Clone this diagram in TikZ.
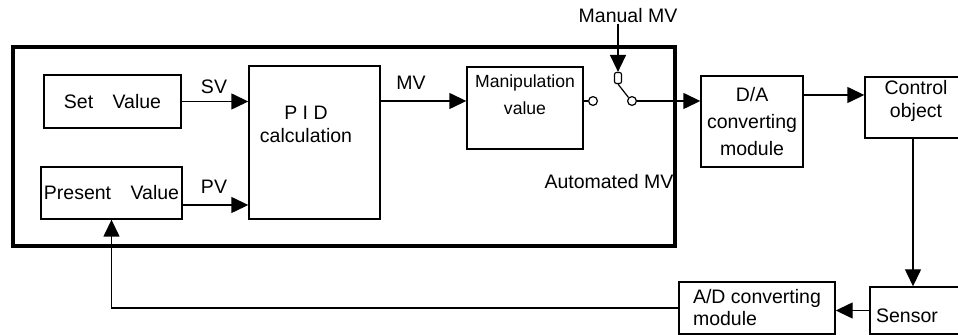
\documentclass[tikz,border=0pt]{standalone}
\usepackage{fontspec}
\setmainfont{Liberation Sans}
\usetikzlibrary{arrows.meta}
\begin{document}
\begin{tikzpicture}[x=0.5pt, y=-0.5pt,
	every node/.style={font=\fontsize{9.75}{11.5}\selectfont, inner sep=0pt},
	box/.style={draw, line width=.7pt, align=center},
	arr/.style={line width=.7pt, -{Triangle[length=8.5pt,width=8pt]}},
	contact/.style={draw, line width=.6pt, circle, minimum size=4.4pt}]
	\clip (0,0) rectangle (958,335) ;
		\node[draw, line width=1.8pt, minimum width=331pt, minimum height=99.5pt] (unit) at (344,146.5) {} ;
		\node[box, minimum width=68.5pt, minimum height=26.5pt] (sv) at (112.5,101.5) {Set\quad Value} ;
		\node[box, minimum width=70.5pt, minimum height=26pt] (pv) at (111.5,193) {Present\quad Value} ;
		\node[box, minimum width=65.5pt, minimum height=76.5pt] (pid) at (314.5,142.5) {} ;
		\node[align=center] (pidtxt) at (306,124) {P I D\\calculation} ;
		\node[box, minimum width=58pt, minimum height=41pt] (manip) at (525,108) {} ;
		\node[align=center, font=\fontsize{8.8}{13.5}\selectfont] (maniptxt) at (525,95) {Manipulation\\value} ;
		\node[contact] (c1) at (593,101) {} ;
		\node[draw, line width=.6pt, rounded corners=1pt, minimum width=3.5pt, minimum height=5.5pt] (c2) at (618,78) {} ;
		\node[contact] (c3) at (632,101) {} ;
		\node (manual) at (628,16) {Manual MV} ;
		\node (auto) at (609,182) {Automated MV} ;
		\node[box, minimum width=51pt, minimum height=45.5pt, font=\fontsize{9.75}{13.5}\selectfont] (da) at (752,121.5) {D/A\\converting\\module} ;
		\node[box, minimum width=48pt, minimum height=30.5pt] (co) at (913,107.5) {} ;
		\node[align=center] (cotxt) at (916,101) {Control\\object} ;
		\node[box, minimum width=45pt, minimum height=23.5pt] (sensor) at (915,310.5) {} ;
		\node (sensortxt) at (907,316) {Sensor} ;
		\node[box, align=left, minimum width=78pt, minimum height=26pt, font=\fontsize{9.75}{11}\selectfont] (ad) at (757,308) {A/D converting\\module\hspace{2.1em}} ;
		\node (svl) at (214,87) {SV} ;
		\node (pvl) at (214,187) {PV} ;
		\node (mvl) at (411,83) {MV} ;
	\coordinate (pvout) at ([yshift=-6pt]pv.east) ;
	\coordinate (mvin) at ([yshift=3.5pt]manip.west) ;
	\coordinate (coin) at ([yshift=6.25pt]co.west) ;
	\draw[arr] (sv.east) -- (sv.east -| pid.west) ;
	\draw[arr] (pvout) -- (pvout -| pid.west) ;
	\draw[arr] (pid.east |- mvin) -- (mvin) ;
	\draw[line width=.6pt] (manip.east |- c1) -- (c1.west) ;
	\draw[arr] (manual.south -| c2.north) -- (c2.north) ;
	\draw[line width=.6pt] (c2.south) -- (c3.north west) ;
	\draw[arr] (c3.east) -- (c3 -| da.west) ;
	\draw[arr] (da.east |- coin) -- (coin) ;
	\draw[arr] (co.south) -- (co.south |- sensor.north) ;
	\draw[arr] (sensor.west) -- (sensor.west -| ad.east) ;
	\draw[arr] (ad.west) -| (pv.south) ;
\end{tikzpicture}
\end{document}
